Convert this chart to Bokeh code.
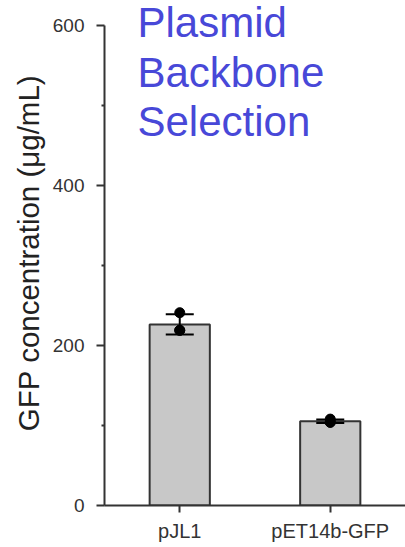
from bokeh.plotting import figure
from bokeh.models import FactorRange, Range1d, FixedTicker, ColumnDataSource, Whisker, TeeHead, Label
from bokeh.embed import file_html
from bokeh.resources import INLINE
import numpy as np

# ---- data ----
categories = ["pJL1", "pET14b-GFP"]
replicates_pJL1 = [241, 219, 219]
replicates_pET = [108, 104, 104]
y_ticks = [0, 200, 400, 600]
y_minor = [100, 300, 500]
title_lines = ["Plasmid", "Backbone", "Selection"]
y_label = "GFP concentration (μg/mL)"

reps = [replicates_pJL1, replicates_pET]
means = [float(np.mean(r)) for r in reps]
sds = [float(np.std(r, ddof=1)) for r in reps]

FONT = "Liberation Sans"
AX = "#333333"

# frame spans the full canvas height above the x axis; the y axis line stops at 600
p = figure(width=405, height=547, output_backend="svg", toolbar_location=None,
           x_range=FactorRange(*categories, range_padding=0),
           y_range=Range1d(0, 631.25),
           min_border_left=104, min_border_right=0, min_border_top=0, min_border_bottom=42)
p.outline_line_color = None
p.xgrid.visible = False
p.ygrid.visible = False
p.background_fill_color = "white"
p.border_fill_color = "white"

bars = ColumnDataSource(dict(x=categories, top=means,
                             upper=[m + s for m, s in zip(means, sds)],
                             lower=[m - s for m, s in zip(means, sds)]))
p.vbar(x="x", top="top", width=0.4, source=bars, fill_color="#c8c8c8",
       line_color=AX, line_width=2)

w = Whisker(base="x", upper="upper", lower="lower", source=bars,
            line_color="black", line_width=2, level="overlay",
            upper_head=TeeHead(size=28, line_color="black", line_width=2),
            lower_head=TeeHead(size=28, line_color="black", line_width=2))
p.add_layout(w)

px, py = [], []
for c, r in zip(categories, reps):
    for v in r:
        px.append(c)
        py.append(v)
p.scatter(px, py, size=10, color="black")

# axes
yax = p.yaxis[0]
yax.ticker = FixedTicker(ticks=y_ticks, minor_ticks=y_minor)
yax.bounds = (0, 600)
yax.axis_label = y_label
yax.axis_label_text_font = FONT
yax.axis_label_text_font_size = "29.5px"
yax.axis_label_text_font_style = "normal"
yax.axis_label_text_color = "#222222"
yax.axis_label_standoff = 5
for ax in (p.xaxis[0], yax):
    ax.axis_line_color = AX
    ax.axis_line_width = 2
    ax.major_tick_line_color = AX
    ax.major_tick_line_width = 2
    ax.minor_tick_line_color = AX
    ax.minor_tick_line_width = 2
    ax.major_tick_in = 0
    ax.minor_tick_in = 0
    ax.major_label_text_font = FONT
    ax.major_label_text_color = "#333333"
yax.major_label_text_font_size = "19px"
p.xaxis[0].major_label_text_font_size = "20px"
yax.major_tick_out = 8
yax.minor_tick_out = 3
yax.major_label_standoff = 12
p.xaxis[0].major_tick_out = 7
p.xaxis[0].major_label_standoff = 7

title_y = [604.0, 541.5, 480.0]
for t, ty in zip(title_lines, title_y):
    p.add_layout(Label(x=0.219, y=ty, text=t, text_font=FONT, text_font_size="42px",
                       text_color="#4848d8", text_baseline="alphabetic", level="overlay"))

open("out.html", "w").write(file_html(p, INLINE))
